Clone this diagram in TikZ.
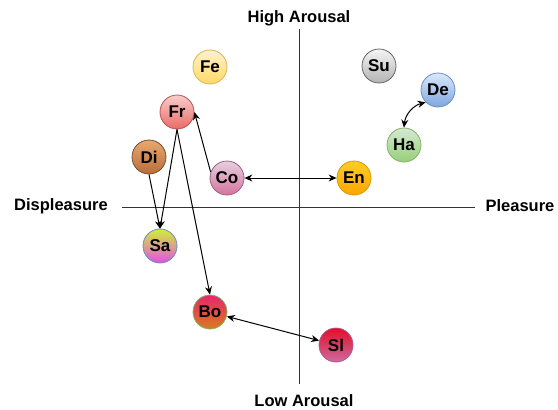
\documentclass[tikz,border=0pt]{standalone}
\usepackage{fontspec}
\setmainfont{Liberation Sans}
\usetikzlibrary{arrows.meta,shadings}
\definecolor{axisgray}{HTML}{333333}
\tikzset{
  emo/.style={circle, minimum size=34pt, inner sep=0pt, line width=0.8pt, font=\fontsize{17}{17}\selectfont\bfseries},
  axislabel/.style={font=\fontsize{16.5}{16.5}\selectfont\bfseries, inner sep=0pt},
  axisline/.style={draw=axisgray, line width=1pt},
  conn/.style={draw=black, line width=1pt, -{Stealth[length=8pt,width=7pt]}},
  conn2/.style={draw=black, line width=1pt, {Stealth[length=8pt,width=7pt]}-{Stealth[length=8pt,width=7pt]}},
}
\begin{document}
\begin{tikzpicture}[x=1pt,y=-1pt]
\useasboundingbox (0,0) rectangle (558,410);
% axes
\coordinate (vt) at (299,29);
\coordinate (vb) at (299,384);
\coordinate (hl) at (122,207);
\coordinate (hr) at (475,207);
\draw[axisline] (vt) -- (vb);
\draw[axisline] (hl) -- (hr);
\node[axislabel] (high) at (299,18) {High Arousal};
\node[axislabel] (low) at (304,401) {Low Arousal};
\node[axislabel] (disp) at (61,206) {Displeasure};
\node[axislabel] (plea) at (520,206) {Pleasure};
% emotion nodes
\node[emo, draw={rgb,255:red,214;green,182;blue,86}, top color={rgb,255:red,255;green,242;blue,204}, bottom color={rgb,255:red,255;green,217;blue,102}] (Fe) at (210,67) {Fe};
\node[emo, draw={rgb,255:red,102;green,102;blue,102}, top color={rgb,255:red,245;green,245;blue,245}, bottom color={rgb,255:red,179;green,179;blue,179}] (Su) at (379,66) {Su};
\node[emo, draw={rgb,255:red,108;green,142;blue,191}, top color={rgb,255:red,218;green,232;blue,252}, bottom color={rgb,255:red,126;green,166;blue,224}] (De) at (438,90) {De};
\node[emo, draw={rgb,255:red,184;green,84;blue,80}, top color={rgb,255:red,248;green,206;blue,204}, bottom color={rgb,255:red,234;green,107;blue,102}] (Fr) at (177,112) {Fr};
\node[emo, draw={rgb,255:red,130;green,179;blue,102}, top color={rgb,255:red,213;green,232;blue,212}, bottom color={rgb,255:red,151;green,208;blue,119}] (Ha) at (404,145) {Ha};
\node[emo, draw={rgb,255:red,110;green,80;blue,50}, top color={rgb,255:red,233;green,168;blue,112}, bottom color={rgb,255:red,185;green,110;blue,58}] (Di) at (149,157) {Di};
\node[emo, draw={rgb,255:red,153;green,97;blue,133}, top color={rgb,255:red,230;green,208;blue,222}, bottom color={rgb,255:red,213;green,115;blue,157}] (Co) at (227,178) {Co};
\node[emo, draw={rgb,255:red,215;green,155;blue,0}, top color={rgb,255:red,255;green,205;blue,40}, bottom color={rgb,255:red,255;green,165;blue,0}] (En) at (354,178) {En};
\node[emo, draw={rgb,255:red,108;green,142;blue,191}, top color={rgb,255:red,208;green,240;blue,50}, bottom color={rgb,255:red,226;green,80;blue,230}] (Sa) at (160,246) {Sa};
\node[emo, draw={rgb,255:red,130;green,179;blue,102}, top color={rgb,255:red,232;green,36;blue,110}, bottom color={rgb,255:red,217;green,124;blue,26}] (Bo) at (210,312) {Bo};
\node[emo, draw={rgb,255:red,184;green,84;blue,144}, top color={rgb,255:red,226;green,14;blue,40}, bottom color={rgb,255:red,204;green,108;blue,160}] (Sl) at (336,345) {Sl};
% connectors
\draw[conn] (Fr.south) -- (Sa.north);
\draw[conn] (Di.south) -- (Sa.north);
\draw[conn] (Fr.south) -- (Bo.north);
\draw[conn] (Co.160) -- (Fr.east);
\draw[conn2] (Co) -- (En);
\draw[conn2] (Ha.north) to[bend left=35] (De.south west);
\draw[conn2] (Bo) -- (Sl);
\end{tikzpicture}
\end{document}
